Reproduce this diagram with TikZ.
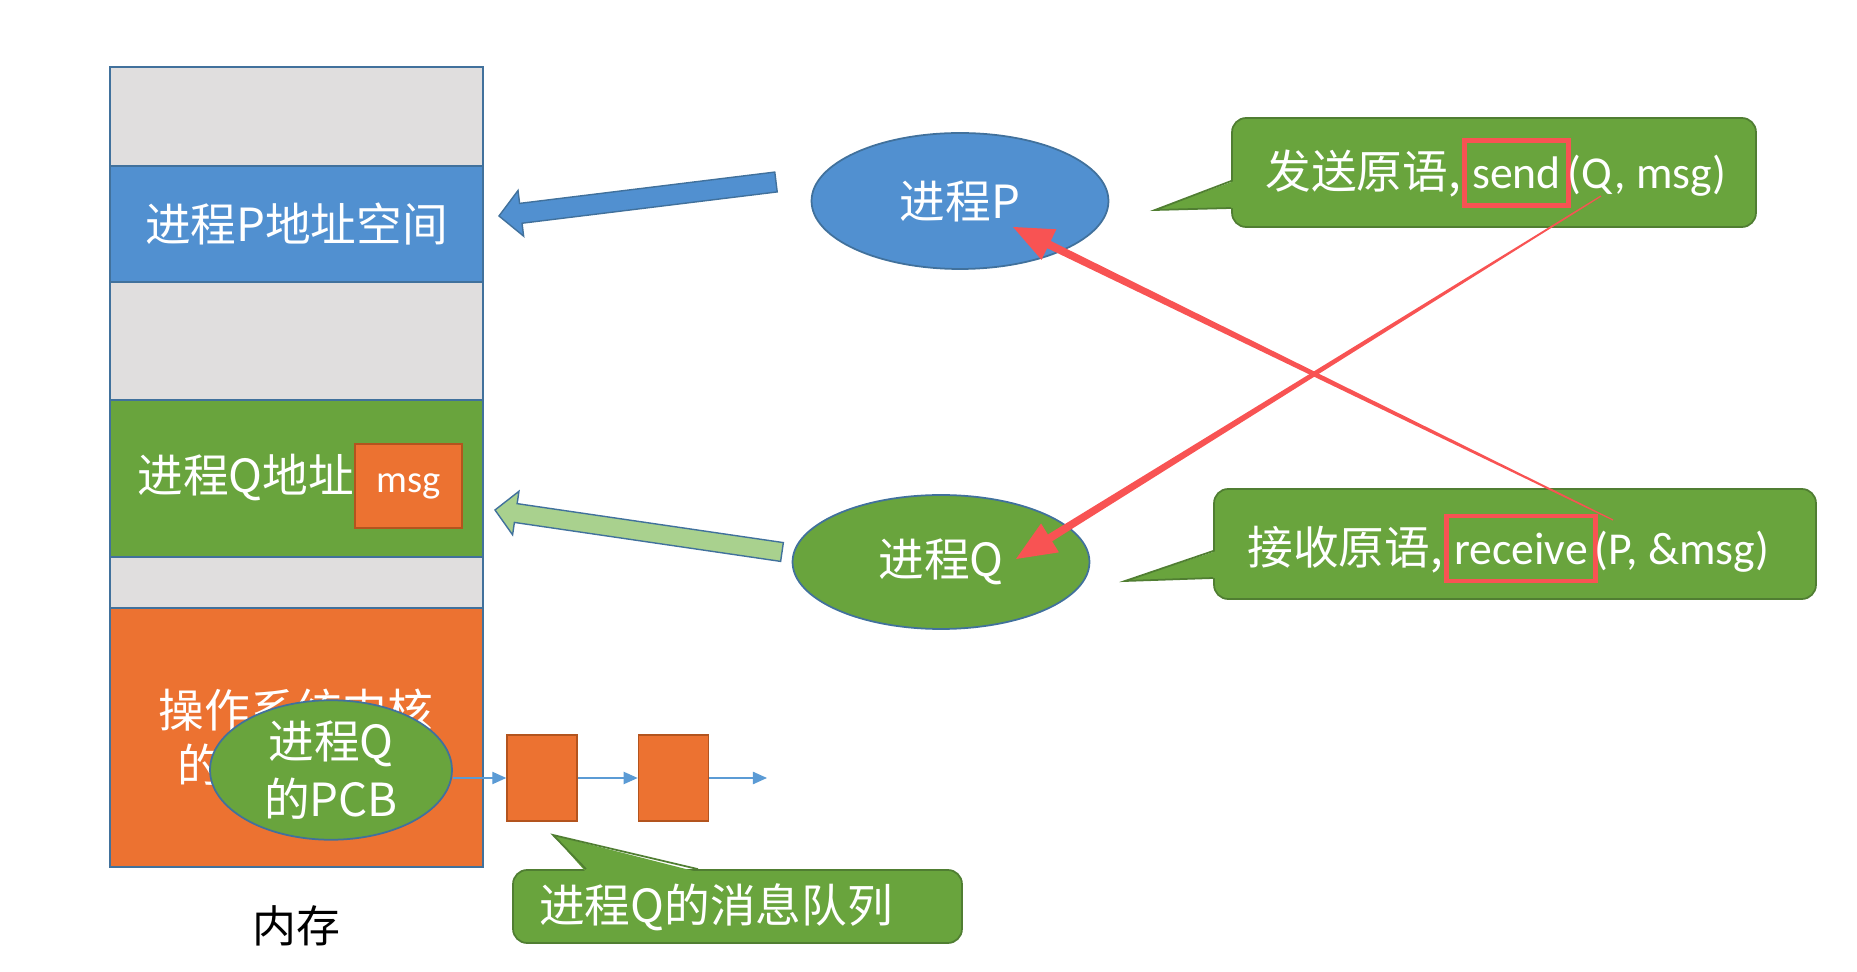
\documentclass[tikz,border=0pt]{standalone}
\usepackage{fontspec}
\setmainfont{Noto Sans CJK SC}
\newfontfamily\latfont{Carlito}
\usepackage{tikz}
\usetikzlibrary{positioning,shapes.geometric,calc,arrows.meta}

\definecolor{memgrey}{HTML}{E0DEDE}
\definecolor{pblue}{HTML}{5190D0}
\definecolor{qgreen}{HTML}{69A43D}
\definecolor{osorange}{HTML}{EC7231}
\definecolor{edgeblue}{HTML}{41719C}
\definecolor{calloutedge}{HTML}{507E32}
\definecolor{lightgreen}{HTML}{A9D18E}
\definecolor{alertred}{HTML}{F85353}
\definecolor{linkblue}{HTML}{5B9BD5}
\definecolor{boxedge}{HTML}{B3541E}

\newcommand{\bigfont}{\fontsize{26}{31}\selectfont}
\newcommand{\msgfont}{\latfont\fontsize{22}{26}\selectfont}

% style, tail, tip, tail half-width, shaft half-width at head, head half-width, head length
\newcommand{\fatarrow}[7]{%
  \coordinate (fa-h) at ($(#3)!#7!(#2)$);
  \path[#1] ($(#2)!#4!90:(#3)$) -- ($(fa-h)!#5!90:(#3)$) -- ($(fa-h)!#6!90:(#3)$)
    -- (#3) -- ($(fa-h)!#6!-90:(#3)$) -- ($(fa-h)!#5!-90:(#3)$) -- ($(#2)!#4!-90:(#3)$) -- cycle;
}

\begin{document}
\begin{tikzpicture}[
  x=0.02cm, y=-0.02cm,
  band/.style={draw=edgeblue,line width=0.8pt,minimum width=7.46cm,inner sep=0pt,outer sep=0pt,text=white,font=\bigfont,align=center},
  bandtext/.style={text=white,font=\bigfont,inner sep=0pt},
  proc/.style={ellipse,draw=edgeblue,line width=1pt,minimum width=5.94cm,minimum height=2.72cm,inner sep=0pt,text=white,font=\bigfont,align=center},
  qbox/.style={fill=osorange,draw=boxedge,line width=0.8pt,minimum width=1.4cm,minimum height=1.72cm,inner sep=0pt},
  link/.style={draw=linkblue,line width=0.8pt,-{Triangle[length=8pt,width=7pt]}},
  callout/.style={draw=calloutedge,fill=qgreen,line width=1pt,rounded corners=8pt,inner sep=0pt},
  pointer/.style={draw=calloutedge,line width=1pt},
  calltext/.style={text=white,font=\bigfont,inner sep=0pt,outer sep=0pt,text height=25pt,text depth=7pt},
  kw/.style={calltext,draw=alertred,line width=2.6pt,inner xsep=4.5pt,inner ysep=2.5pt,font=\latfont\bigfont}
]
\useasboundingbox (0,0) rectangle (1857,972);

\node[band,fill=memgrey,minimum height=1.98cm] (memtop) at (296.5,116.5) {};
\node[band,fill=pblue,minimum height=2.32cm,below=0pt of memtop] (memP) {进程P地址空间};
\node[band,fill=memgrey,minimum height=2.36cm,below=0pt of memP] (memgapA) {};
\node[band,fill=qgreen,minimum height=3.14cm,below=0pt of memgapA] (memQ) {};
\node[band,fill=memgrey,minimum height=1.02cm,below=0pt of memQ] (memgapB) {};
\node[band,fill=osorange,minimum height=5.18cm,below=0pt of memgapB] (memOS) {};
\node[bandtext,anchor=west] (memQtext) at (137,478) {进程Q地址};
\node[bandtext] (memOStextA) at (296,710) {操作系统内核};
\node[bandtext,anchor=west] (memOStextB) at (177,765) {的};
\node[fill=osorange,draw=boxedge,line width=0.8pt,minimum width=2.14cm,minimum height=1.68cm,inner sep=0pt,text=white,font=\msgfont] (msgbox) at (408.5,486) {msg};
\node[proc,fill=qgreen,minimum width=4.84cm] (pcb) at (331,770) {进程Q\\[2pt]的PCB};
\node[font=\fontsize{25}{30}\selectfont] (memlabel) at (296,926) {内存};

\node[qbox] (q1) at (542,778) {};
\node[qbox,right=1.2cm of q1] (q2) {};
\coordinate (qend) at (767,778);
\draw[link] (pcb.east |- q1.west) -- (q1);
\draw[link] (q1) -- (q2);
\draw[link] (q2) -- (qend);

\node[callout,minimum width=8.98cm,minimum height=1.46cm] (qcall) at (737.5,906.5) {};
\coordinate (qcalltip) at (553,835);
\fill[qgreen] ($(qcall.north)+(-151.5,3)$) -- (qcalltip) -- ($(qcall.north)+(-39.5,3)$) -- cycle;
\draw[pointer] ($(qcall.north)+(-151.5,0)$) -- (qcalltip) -- ($(qcall.north)+(-39.5,0)$);
\node[calltext] (qcalltext) at (716,907) {进程Q的消息队列};

\coordinate (ptail) at (776,182);
\coordinate (phead) at (499,216);
\fatarrow{fill=pblue,draw=edgeblue,line width=0.8pt}{ptail}{phead}{0.2cm}{0.2cm}{0.46cm}{0.44cm}
\coordinate (qtail) at (782,552);
\coordinate (qhead) at (495,510);
\fatarrow{fill=lightgreen,draw=edgeblue,line width=0.8pt}{qtail}{qhead}{0.19cm}{0.19cm}{0.44cm}{0.42cm}

\node[proc,fill=pblue] (procP) at (960,201) {进程P};
\node[proc,fill=qgreen,minimum height=2.68cm] (procQ) at (941,562) {进程Q};

\node[callout,minimum width=10.48cm,minimum height=2.18cm] (sendbox) at (1494,172.5) {};
\coordinate (sendtip) at (1155,210);
\fill[qgreen] ($(sendbox.west)+(3,8.5)$) -- (sendtip) -- ($(sendbox.west)+(3,35.5)$) -- cycle;
\draw[pointer] ($(sendbox.west)+(0,8.5)$) -- (sendtip) -- ($(sendbox.west)+(0,35.5)$);
\node[kw] (sendkw) at (1516.5,173) {send};
\node[calltext,left=2pt of sendkw] (sendlead) {发送原语,};
\node[calltext,right=-0.5pt of sendkw,font=\latfont\bigfont] (sendtail) {(Q, msg)};

\node[callout,minimum width=12.04cm,minimum height=2.2cm] (rcvbox) at (1515,544) {};
\coordinate (rcvtip) at (1125,581);
\fill[qgreen] ($(rcvbox.west)+(3,7)$) -- (rcvtip) -- ($(rcvbox.west)+(3,34)$) -- cycle;
\draw[pointer] ($(rcvbox.west)+(0,7)$) -- (rcvtip) -- ($(rcvbox.west)+(0,34)$);
\node[kw] (rcvkw) at (1521,548.5) {receive};
\node[calltext,left=2pt of rcvkw] (rcvlead) {接收原语,};
\node[calltext,right=-0.5pt of rcvkw,font=\latfont\bigfont] (rcvtail) {(P, \&msg)};

\coordinate (rcvfrom) at (1613,520);
\coordinate (ptarget) at (1013,227);
\coordinate (sendfrom) at (1601,196);
\coordinate (qtarget) at (1016,559);
\fatarrow{fill=alertred}{rcvfrom}{ptarget}{0.012cm}{0.08cm}{0.34cm}{0.8cm}
\fatarrow{fill=alertred}{sendfrom}{qtarget}{0.012cm}{0.08cm}{0.34cm}{0.8cm}
\end{tikzpicture}
\end{document}
